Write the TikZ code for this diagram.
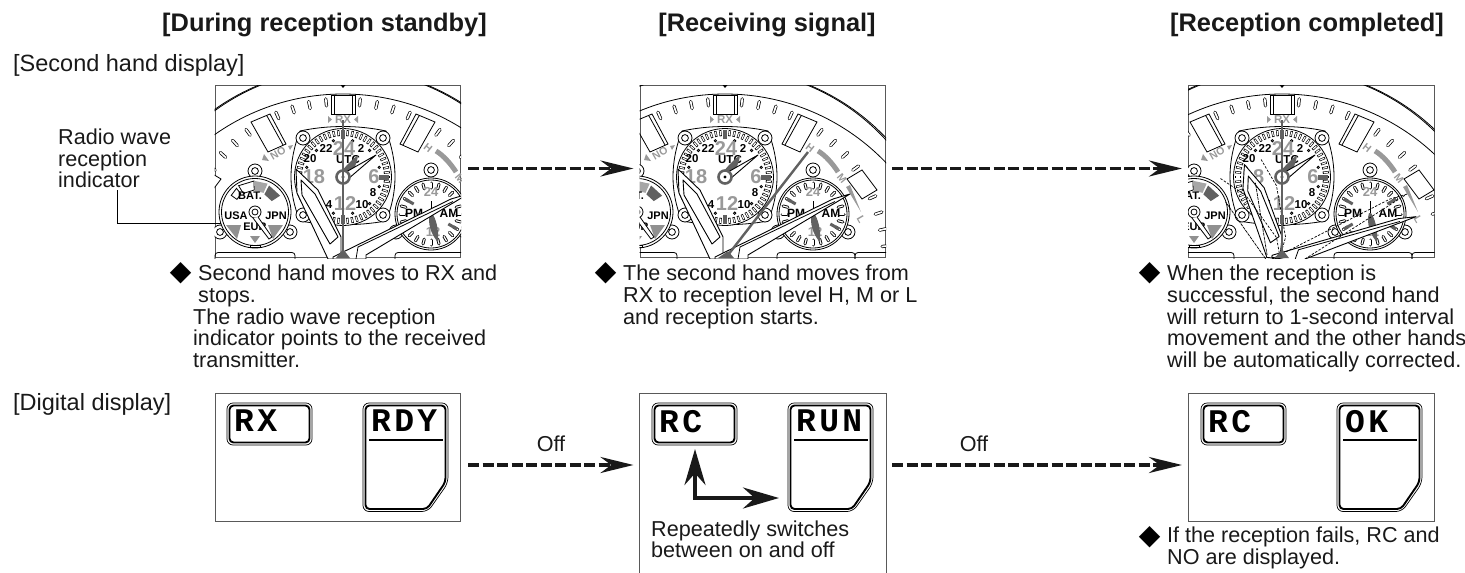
\documentclass[tikz,border=0pt]{standalone}
\usepackage{fontspec}
\setmainfont{Liberation Sans}
\newfontfamily\lcdfont[LetterSpace=10]{Liberation Mono}
\newfontfamily\symfont{DejaVu Sans}
\usetikzlibrary{arrows.meta}
\definecolor{inkblack}{gray}{0.1}
\definecolor{dialgray}{gray}{0.6}
\definecolor{handgray}{gray}{0.38}
\definecolor{panelgray}{gray}{0.35}
\tikzset{
  panel/.style={draw=panelgray, line width=1pt, anchor=north west, inner sep=0pt, minimum width=245.5pt},
  headtext/.style={font=\fontsize{25.4}{25.4}\selectfont\bfseries, text=inkblack, inner sep=0pt, anchor=base},
  bodytext/.style={font=\fontsize{21.6}{21.7}\selectfont, text=inkblack, inner sep=0pt, align=left, anchor=north west},
  rowtext/.style={bodytext, font=\fontsize{23.5}{23.5}\selectfont},
  bullet/.style={font=\symfont\fontsize{28}{28}\selectfont, text=black, inner sep=0pt},
  flowarrow/.style={line width=3.5pt, inkblack, dash pattern=on 11pt off 3.5pt, -{Stealth[length=33pt,width=16pt]}},
  flash/.style={line width=3.5pt, inkblack, {Stealth[length=36pt,width=21pt]}-{Stealth[length=36pt,width=21pt]}},
  pillout/.style={line width=3.2pt, black, line cap=round},
  pillin/.style={line width=1.7pt, white, line cap=round},
  thinline/.style={line width=.8pt, black},
  digit/.style={font=\fontsize{11.5}{11.5}\selectfont\bfseries, inner sep=0pt, text=black},
  greydigit/.style={font=\fontsize{20}{20}\selectfont\bfseries, inner sep=0pt, text=dialgray},
  marklabel/.style={font=\fontsize{10.5}{10.5}\selectfont\bfseries, inner sep=0pt, text=dialgray},
  handline/.style={line width=.9pt, black, fill=white, line join=round},
  oldhand/.style={line width=.7pt, black, dashed, dash pattern=on 2.5pt off 1.5pt},
  lcdouter/.style={line width=.7pt, black, rounded corners=6pt},
  lcdinner/.style={line width=1.9pt, black, rounded corners=4pt},
  lcdtext/.style={font=\lcdfont\fontsize{33}{33}\selectfont\bfseries, inner sep=0pt, anchor=north west, text=black},
}
\begin{document}
\begin{tikzpicture}[x=1pt,y=-1pt]
\useasboundingbox (0,0) rectangle (1465,573);
% one screw with its lug
\def\screw#1{\draw[thinline, fill=white] #1 circle (7); \draw[thinline] #1 circle (3.4);}
% the dial of the watch, (0,0) is the centre of the UTC dial
\def\watchface{
  \draw[thinline] (0,140) circle (223);
  \draw[thinline] (0,110) circle (218);
  \draw[thinline] (0,113) circle (221.5);
  \fill[black] (-2.5,-92) -- (2.5,-92) -- (0,-89) -- cycle;
  \begin{scope}[shift={(0,86)}]
  \foreach \a in {6,12,18,24,36,42,48,54,66,72,78,84}{
    \draw[pillout] (-90+\a:158) -- (-90+\a:165);
    \draw[pillin] (-90+\a:158) -- (-90+\a:165);
    \draw[pillout] (-90-\a:158) -- (-90-\a:165);
    \draw[pillin] (-90-\a:158) -- (-90-\a:165);
  }
  \end{scope}
  % windows
  \draw[thinline, fill=white, line width=1pt] (-12,-82) rectangle (12,-63);
  \draw[thinline] (-9,-82) -- (-9,-63) (9,-82) -- (9,-63);
  \draw[thinline] (-92,-55) -- (-73,-63) -- (-57,-33) -- (-75,-25) -- cycle (-76,-61) -- (-60,-32);
  \draw[thinline] (92,-55) -- (73,-63) -- (57,-33) -- (75,-25) -- cycle (76,-61) -- (60,-32);
  \draw[thinline, fill=white] (122,2) -- (137,-7) -- (152,13) -- (137,22) -- cycle;
  \draw[thinline, fill=white] (-122,2) -- (-137,-7) -- (-152,13) -- (-137,22) -- cycle;
  % printed marks
  \node[marklabel, font=\fontsize{11.5}{11.5}\selectfont\bfseries] (rxmark) at (0,-57.5) {RX};
  \fill[dialgray] (-15,-61) -- (-11,-57.5) -- (-15,-54) -- cycle (15,-61) -- (11,-57.5) -- (15,-54) -- cycle;
  \node[marklabel, rotate=30] (nomark) at (-65,-24) {NO};
  \fill[dialgray] (-79,-23) -- (-74,-16) -- (-81,-17) -- cycle (-53,-27) -- (-50,-32) -- (-55,-31) -- cycle;
  \node[marklabel, rotate=-38] (hmark) at (85,-29) {H};
  \draw[dialgray, line width=5pt] (93,-26) .. controls (100,-22) and (108,-13) .. (113,-5);
  \node[marklabel, rotate=-50] (mmark) at (117,2) {M};
  \fill[dialgray] (121,10) -- (125,8) -- (136,35) -- cycle;
  \node[marklabel, rotate=-60] (lmark) at (136,42) {L};
  % bottom lugs
  \draw[thinline, rounded corners=3pt] (-128,82) -- (-128,75.5) -- (-48,75.5) -- (-48,82);
  \draw[thinline, rounded corners=3pt] (52,82) -- (52,75.5) -- (130,75.5) -- (130,82);
  \draw[thinline, rounded corners=3pt] (130,82) -- (130,75.5) -- (165,75.5) -- (165,82);
  % UTC dial
  \draw[thinline, fill=white] (-43,-46) .. controls (-15,-52) and (15,-52) .. (43,-46) .. controls (55,-15) and (55,15) .. (43,44) .. controls (15,49) and (-15,49) .. (-43,44) .. controls (-55,15) and (-55,-15) .. (-43,-46);
  \screw{(-40,-39)} \screw{(40,-39)} \screw{(-40,38)} \screw{(40,38)}
  \draw[thinline, fill=white] (0,0) circle (48.5);
  \foreach \a in {0,6,...,354}{
    \draw[line width=2.3pt, black] (\a:41) -- (\a:47);
    \draw[line width=1.1pt, white] (\a:41.8) -- (\a:46.2);
  }
  \foreach \a in {15,45,...,345}{ \draw[thinline, fill=white] (\a:37.5) circle (1.2); }
  \fill[handgray] (36,-2.5) rectangle (46,2.5);
  \fill[handgray] (-2,-47) rectangle (2,-38);
  \fill[handgray] (-2,38) rectangle (2,47);
  \node[greydigit] (d24) at (1,-28) {24};
  \node[greydigit] (d18) at (-29,0) {18};
  \node[greydigit] (d6) at (31,0) {6};
  \node[greydigit] (d12) at (2,27) {12};
  \node[digit] (d22) at (-17,-29) {22};
  \node[digit] (d2) at (18,-29) {2};
  \node[digit] (d20) at (-33,-18) {20};
  \node[digit] (dutc) at (5,-17) {UTC};
  \node[digit] (d8) at (30,16) {8};
  \node[digit] (d10) at (19,28) {10};
  \node[digit] (d4) at (-14,28) {4};
  % centre hands of the dial
  \fill[handgray] (-4,-2) .. controls (3,-12) and (10,-18) .. (15,-22) .. controls (14,-12) and (9,-4) .. (4,3) -- cycle;
  \draw[handline] (33,-22) -- (3,-5) -- (5,2) -- cycle;
  \draw[line width=2.6pt, handgray, fill=white] (0,0) circle (6.5);
  \fill[black] (0,0) circle (1.6);
  % battery and city dial
  \screw{(-88,-6)} \screw{(-123,55)} \screw{(-53,55)}
  \draw[thinline, fill=white] (-88,35) circle (36);
  \draw[thinline] (-88,35) circle (33.5);
  \begin{scope}[shift={(-88,35)}]
  \draw[thinline, fill=white] (-145:22) -- (-145:29) -- (-128:30) -- (-128:23) -- cycle;
  \draw[thinline, fill=white] (-122:22) -- (-122:31) -- (-92:31) -- (-92:22) -- cycle;
  \fill[black!35] (-90:21) -- (-90:31) -- (-66:31) -- (-66:21) -- cycle;
  \fill[handgray] (-62:20) -- (-62:30) -- (-33:30) -- (-33:20) -- cycle;
  \end{scope}
  \node[digit, font=\fontsize{11}{11}\selectfont\bfseries] (batlabel) at (-93,19) {BAT.};
  \node[digit, font=\fontsize{11}{11}\selectfont\bfseries] (usalabel) at (-107,39) {USA};
  \node[digit, font=\fontsize{11}{11}\selectfont\bfseries] (jpnlabel) at (-67,39) {JPN};
  \fill[handgray!70] (-117,48) -- (-102,48) -- (-106,62) -- cycle (-60,48) -- (-75,48) -- (-70,62) -- cycle (-93,59) -- (-83,59) -- (-88,66) -- cycle;
  \node[digit, font=\fontsize{11}{11}\selectfont\bfseries] (eurlabel) at (-88,50) {EUR};
  \draw[thinline] (-93,68.5) rectangle (-83,70.5);
  \draw[thinline, fill=white] (-88,35) circle (6);
  \draw[thinline, fill=white] (-85,40) -- (-71,60) -- (-74,62) -- (-90,41);
  \draw[thinline, fill=white] (-88,35) circle (3);
  % 24 hour dial
  \screw{(88,-7)} \screw{(123,55)} \screw{(53,55)}
  \draw[thinline, fill=white] (88,37) circle (36);
  \draw[thinline] (88,37) circle (34);
  \begin{scope}[shift={(88,37)}]
  \foreach \a in {0,15,...,345}{
    \draw[pillout, line width=3pt] (\a:26) -- (\a:31);
    \draw[pillin, line width=1.2pt] (\a:26) -- (\a:31);
  }
  \foreach \a in {-150,-30,30,150}{ \draw[line width=3pt, handgray] (\a:20) -- (\a:30); }
  \end{scope}
  \node[greydigit, font=\fontsize{13}{13}\selectfont\bfseries] (d24b) at (88,15) {24};
  \node[greydigit, font=\fontsize{13}{13}\selectfont\bfseries] (d12b) at (90,55) {12};
  \node[digit, font=\fontsize{12}{12}\selectfont\bfseries] (pmlabel) at (71,36) {PM};
  \node[digit, font=\fontsize{12}{12}\selectfont\bfseries] (amlabel) at (106,36) {AM};
  \draw[thinline] (88,37) -- (88,24);
  \fill[handgray] (87,36) .. controls (84,45) and (88,58) .. (95,65) .. controls (96,52) and (93,42) .. (89,36) -- cycle;
}
% the two large hands
\def\hourhand{
  \draw[handline] (-47,-8) -- (-25,13) -- (-2,60) -- (-2,82) -- (-15,82) -- (-46,16) -- cycle;
  \draw[handline] (-42,3) -- (-28,17) -- (-5,60) -- (-13,67) -- (-41,18) -- cycle;
}
\def\minutehand{
  \draw[handline] (125,17) -- (108,22) -- (-10,80) -- (-10,82) -- (23,82) -- (23,78) -- cycle;
  \draw[thinline] (110,24.5) -- (15,70) -- (13,82);
}
\def\hourghost{\draw[oldhand] (-47,-8) -- (-25,13) -- (-2,60) -- (-2,82) (-15,82) -- (-46,16) -- cycle;}
\def\minuteghost{\draw[oldhand] (125,17) -- (108,22) -- (-10,82) (23,82) -- (125,17);}
\def\secondhand{
  \draw[line width=2.4pt, handgray] (0,-57) -- (0,80);
  \fill[handgray] (-7,81) -- (0,72) -- (7,81) -- cycle;
}
% liquid crystal displays
\def\lcdwide#1#2#3{
  \begin{scope}[shift={(#1,403)}]
  \draw[lcdouter] (0,0) rectangle (85,42);
  \draw[lcdinner] (2.5,2.5) rectangle (82.5,39.5);
  \node[lcdtext] (#2) at (7,7) {#3};
  \end{scope}
}
\def\lcdtall#1#2#3{
  \begin{scope}[shift={(#1,403)}]
  \draw[lcdouter] (0,0) -- (85,0) -- (85,80) -- (65,108.5) -- (0,108.5) -- cycle;
  \draw[lcdinner] (2.5,2.5) -- (82.5,2.5) -- (82.5,79) -- (64,106) -- (2.5,106) -- cycle;
  \draw[line width=1.9pt, black] (6,37) -- (79.5,37);
  \node[lcdtext] (#2) at (8,7) {#3};
  \end{scope}
}
% titles
\node[headtext] (standby) at (324.5,31) {[During reception standby]};
\node[headtext] (receiving) at (767,31) {[Receiving signal]};
\node[headtext] (completed) at (1307,31) {[Reception completed]};
\node[rowtext] (secondtitle) at (13,54) {[Second hand display]};
\node[rowtext] (digitaltitle) at (13,393) {[Digital display]};
% upper row
\node[panel, minimum height=172pt] (watchA) at (214.5,85) {};
\node[panel, minimum height=172pt] (watchB) at (639.5,85) {};
\node[panel, minimum height=172pt] (watchC) at (1188,85) {};
\begin{scope}
  \clip (watchA.south west) rectangle (watchA.north east);
  \begin{scope}[shift={(343,177)}]
    \watchface \hourhand \minutehand \secondhand
  \end{scope}
\end{scope}
\begin{scope}
  \clip (watchB.south west) rectangle (watchB.north east);
  \begin{scope}[shift={(725,177)}]
    \watchface \hourhand \minutehand
    \draw[line width=2.4pt, handgray] (3,78) -- (83,-25);
    \fill[handgray] (-7,81) -- (3,74) -- (9,81) -- cycle;
  \end{scope}
\end{scope}
\begin{scope}
  \clip (watchC.south west) rectangle (watchC.north east);
  \begin{scope}[shift={(1282,177)}]
    \watchface
    \begin{scope}[rotate around={-6:(0,80)}] \hourhand \end{scope}
    \begin{scope}[rotate around={-10:(0,80)}] \minutehand \end{scope}
    \begin{scope}[rotate around={10:(0,80)}] \hourghost \end{scope}
    \begin{scope}[rotate around={-16:(0,80)}] \hourghost \end{scope}
    \minuteghost
    \secondhand
  \end{scope}
\end{scope}
% radio wave label
\node[bodytext] (radiolabel) at (58,128.5) {Radio wave\\reception\\indicator};
\coordinate (indicatorpt) at (221,223);
\draw[line width=1pt, black] ([xshift=2.5pt,yshift=-2pt]radiolabel.south) |- (indicatorpt);
% notes under the watches
\node[bullet] (markA) at (180.7,273.7) {◆};
\node[bullet] (markB) at (605.7,273.7) {◆};
\node[bullet] (markC) at (1149.7,273.7) {◆};
\node[bodytext] (noteA) at (198,265) {Second hand moves to RX and\\stops.\\\hspace*{-5pt}The radio wave reception\\\hspace*{-5pt}indicator points to the received\\\hspace*{-5pt}transmitter.};
\node[bodytext] (noteB) at (623,265) {The second hand moves from\\RX to reception level H, M or L\\and reception starts.};
\node[bodytext] (noteC) at (1167,265) {When the reception is\\successful, the second hand\\will return to 1-second interval\\movement and the other hands\\will be automatically corrected.};
% lower row
\node[panel, minimum height=127.5pt] (digitA) at (214.5,393) {};
\node[panel, draw=none, minimum height=180pt] (digitB) at (639.5,393) {};
\node[panel, minimum height=127.5pt] (digitC) at (1188,393) {};
\draw[draw=panelgray, line width=1pt] (digitB.south west) -- (digitB.north west) -- (digitB.north east) -- (digitB.south east);
\lcdwide{227}{smallA}{RX}
\lcdtall{363}{tallA}{RDY}
\lcdwide{652}{smallB}{RC}
\lcdtall{788}{tallB}{RUN}
\lcdwide{1201}{smallC}{RC}
\lcdtall{1337}{tallC}{OK}
\coordinate (tipup) at (695,449);
\coordinate (elbow) at (695,498);
\coordinate (tipright) at (779,498);
\draw[flash] (tipup) -- (elbow) -- (tipright);
\node[bodytext, font=\fontsize{21.6}{20.5}\selectfont] (switchnote) at (651,521) {Repeatedly switches\\between on and off};
\node[bullet] (markD) at (1149.7,537) {◆};
\node[bodytext] (noteD) at (1167,527) {If the reception fails, RC and\\NO are displayed.};
% arrows between the states
\draw[flowarrow, shorten <=7pt, shorten >=6pt] ([yshift=3pt]watchA.east) -- ([yshift=3pt]watchB.west);
\draw[flowarrow, shorten <=6pt, shorten >=6pt] ([yshift=3pt]watchB.east) -- ([yshift=3pt]watchC.west);
\draw[flowarrow, shorten <=7pt, shorten >=6pt] (digitA.north east |- 0,465) -- (digitB.north west |- 0,465);
\draw[flowarrow, shorten <=6pt, shorten >=6pt] (digitB.north east |- 0,465) -- (digitC.north west |- 0,465);
\node[bodytext, anchor=base] (offtextA) at (551,451) {Off};
\node[bodytext, anchor=base] (offtextB) at (974,451) {Off};
\end{tikzpicture}
\end{document}
